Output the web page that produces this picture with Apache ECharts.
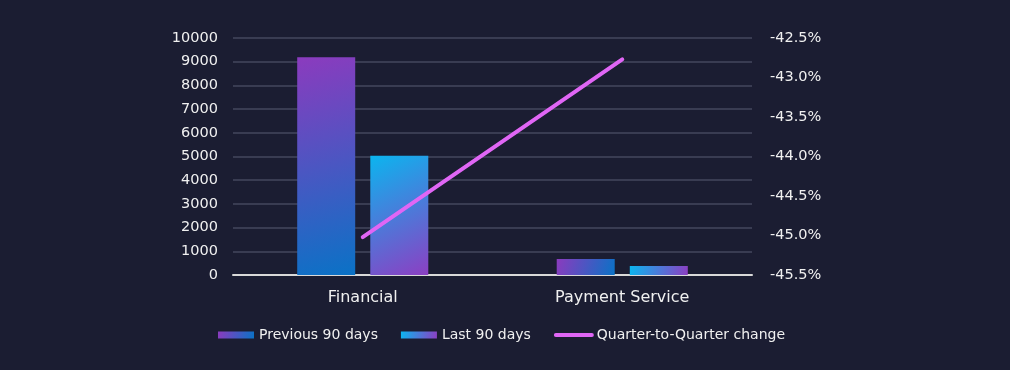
<!DOCTYPE html>
<html>
<head>
<meta charset="utf-8">
<script src="https://cdn.jsdelivr.net/npm/echarts@6/dist/echarts.min.js"></script>
<style>
html,body{margin:0;padding:0;background:#1b1d32;}
#c{width:1010px;height:370px;}
</style>
</head>
<body>
<div id="c"></div>
<script>
const categories = ['Financial', 'Payment Service'];
const previous90 = [9190, 680];
const last90 = [5030, 380];
const qoqChange = [-45.02, -42.77];
const leftTicks = {min: 0, max: 10000, interval: 1000};
const rightTicks = {min: -45.5, max: -42.5, interval: 0.5};

const FONT = 'DejaVu Sans';
const chart = echarts.init(document.getElementById('c'), null, {renderer: 'canvas'});
chart.setOption({
  backgroundColor: '#1b1d32',
  textStyle: {fontFamily: FONT},
  grid: {left: 233, right: 258, top: 38, bottom: 95},
  legend: {
    left: 213, top: 323,
    itemWidth: 36, itemHeight: 7, itemGap: 23,
    textStyle: {color: '#f0f0f0', fontSize: 14, fontFamily: FONT},
    data: [
      {name: 'Previous 90 days', icon: 'rect'},
      {name: 'Last 90 days', icon: 'rect'},
      {name: 'Quarter-to-Quarter change', itemStyle: {opacity: 0},
       lineStyle: {width: 4, color: '#e066f5', cap: 'round'}}
    ]
  },
  xAxis: {
    type: 'category', data: categories,
    axisLine: {lineStyle: {color: '#d9d9d9', width: 2}},
    axisTick: {show: false},
    axisLabel: {color: '#f0f0f0', fontSize: 16, margin: 15, fontFamily: FONT}
  },
  yAxis: [
    {
      type: 'value', min: leftTicks.min, max: leftTicks.max, interval: leftTicks.interval,
      axisLine: {show: false}, axisTick: {show: false},
      splitLine: {lineStyle: {color: '#393c52', width: 2}},
      axisLabel: {color: '#f0f0f0', fontSize: 14.5, margin: 15, fontFamily: FONT,
        formatter: v => String(v)}
    },
    {
      type: 'value', min: rightTicks.min, max: rightTicks.max, interval: rightTicks.interval,
      axisLine: {show: false}, axisTick: {show: false}, splitLine: {show: false},
      axisLabel: {color: '#f0f0f0', fontSize: 14.5, margin: 18, fontFamily: FONT,
        formatter: v => v.toFixed(1) + '%'}
    }
  ],
  series: [
    {
      name: 'Previous 90 days', type: 'bar', data: previous90,
      barWidth: 58, barGap: '26%',
      itemStyle: {color: new echarts.graphic.LinearGradient(0, 0, 1, 1, [
        {offset: 0, color: '#8b3bbe'}, {offset: 1, color: '#0a72c6'}])}
    },
    {
      name: 'Last 90 days', type: 'bar', data: last90,
      barWidth: 58,
      itemStyle: {color: new echarts.graphic.LinearGradient(0, 0, 1, 1, [
        {offset: 0, color: '#0bb5ef'}, {offset: 1, color: '#8c3fc3'}])}
    },
    {
      name: 'Quarter-to-Quarter change', type: 'line', yAxisIndex: 1, data: qoqChange,
      symbol: 'none', z: 5,
      itemStyle: {color: '#e066f5'},
      lineStyle: {color: '#e066f5', width: 4, cap: 'round'}
    }
  ]
});
</script>
</body>
</html>
